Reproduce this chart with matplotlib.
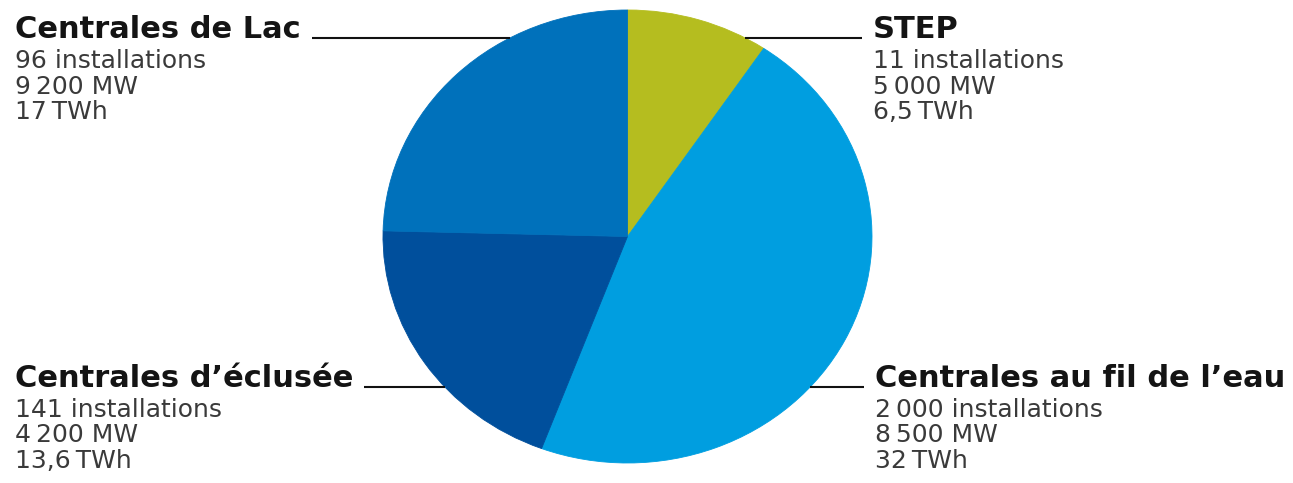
import matplotlib
matplotlib.use("Agg")
import numpy as np
import matplotlib.pyplot as plt

# Hydro power plant types (Swiss-style breakdown), pie sized by TWh
names = ["STEP", "Centrales au fil de l\u2019eau", "Centrales d\u2019éclusée", "Centrales de Lac"]
installations = ["11", "2\u2009000", "141", "96"]
power_mw = ["5\u2009000", "8\u2009500", "4\u2009200", "9\u2009200"]
energy_twh = [6.5, 32, 13.6, 17]
energy_lbl = ["6,5", "32", "13,6", "17"]
colors = ["#b5bd1f", "#009ee0", "#004f9c", "#0071bb"]

W, H = 1293, 483
fig = plt.figure(figsize=(W / 100, H / 100), dpi=100)
fig.patch.set_facecolor("white")

# pie box in pixels (reference pie is slightly wider than tall)
px0, py0, px1, py1 = 383, 10, 872, 463
cx, cy = (px0 + px1) / 2, (py0 + py1) / 2
rx, ry = (px1 - px0) / 2, (py1 - py0) / 2

ax = fig.add_axes([px0 / W, 1 - py1 / H, (px1 - px0) / W, (py1 - py0) / H])
wedges, _ = ax.pie(energy_twh, colors=colors, startangle=90, counterclock=False,
                   wedgeprops=dict(linewidth=0.6))
for w in wedges:
    w.set_edgecolor(w.get_facecolor())
ax.set_aspect("auto")
ax.set_xlim(-1, 1)
ax.set_ylim(-1, 1)
ax.axis("off")

# overlay in pixel coordinates for labels and leader lines
ov = fig.add_axes([0, 0, 1, 1], zorder=5)
ov.patch.set_visible(False)
ov.set_xlim(0, W)
ov.set_ylim(H, 0)
ov.axis("off")

fam = ["DejaVu Sans"]
title_c = "#141414"
sub_c = "#3a3a3a"

# label placement: (x, title baseline, side)
places = {
    0: (873, 38, "right"),
    1: (875, 387, "right"),
    2: (15, 387, "left"),
    3: (15, 38, "left"),
}

fig.canvas.draw()
renderer = fig.canvas.get_renderer()
inv = ov.transData.inverted()

for i, name in enumerate(names):
    x, yb, side = places[i]
    t = ov.text(x, yb, name, fontsize=22, fontweight="bold", color=title_c,
                family=fam, va="baseline", ha="left")
    subs = [f"{installations[i]} installations", f"{power_mw[i]} MW",
            f"{energy_lbl[i]}\u2009TWh"]
    for k, s in enumerate(subs):
        ov.text(x, yb + 30 + 25.5 * k, s, fontsize=18, color=sub_c,
                family=fam, va="baseline", ha="left")
    # leader line from label to pie edge
    dy = (yb - cy) / ry
    dx = rx * np.sqrt(max(0.0, 1 - dy * dy))
    if side == "left":
        bb = t.get_window_extent(renderer)
        xe = inv.transform((bb.x1, bb.y0))[0]
        ov.plot([xe + 11, cx - dx], [yb, yb], color="#111111", lw=1.5,
                solid_capstyle="butt")
    else:
        ov.plot([cx + dx, x - 11], [yb, yb], color="#111111", lw=1.5,
                solid_capstyle="butt")

fig.savefig("out.png", dpi=100, facecolor="white")
